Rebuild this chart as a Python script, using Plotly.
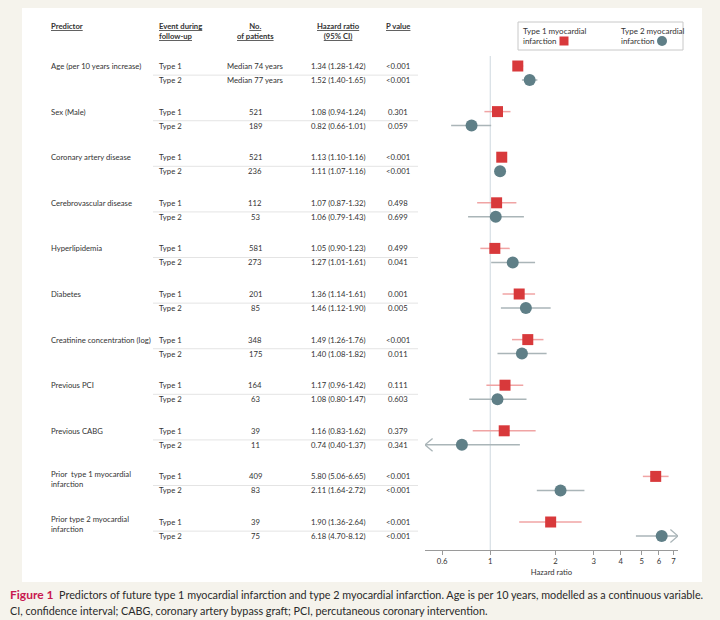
import math
import plotly.graph_objects as go

# ---------------- data ----------------
predictors = ["Age (per 10 years increase)", "Sex (Male)", "Coronary artery disease",
              "Cerebrovascular disease", "Hyperlipidemia", "Diabetes",
              "Creatinine concentration (log)", "Previous PCI", "Previous CABG",
              "Prior  type 1 myocardial<br>infarction", "Prior type 2 myocardial<br>infarction"]
event_types = ["Type 1", "Type 2"]
n_type1 = ["Median 74 years", "521", "521", "112", "581", "201", "348", "164", "39", "409", "39"]
n_type2 = ["Median 77 years", "189", "236", "53", "273", "85", "175", "63", "11", "83", "75"]
hr1 = [1.34, 1.08, 1.13, 1.07, 1.05, 1.36, 1.49, 1.17, 1.16, 5.80, 1.90]
lo1 = [1.28, 0.94, 1.10, 0.87, 0.90, 1.14, 1.26, 0.96, 0.83, 5.06, 1.36]
hi1 = [1.42, 1.24, 1.16, 1.32, 1.23, 1.61, 1.76, 1.42, 1.62, 6.65, 2.64]
p1 = ["<0.001", "0.301", "<0.001", "0.498", "0.499", "0.001", "<0.001", "0.111", "0.379", "<0.001", "<0.001"]
hr2 = [1.52, 0.82, 1.11, 1.06, 1.27, 1.46, 1.40, 1.08, 0.74, 2.11, 6.18]
lo2 = [1.40, 0.66, 1.07, 0.79, 1.01, 1.12, 1.08, 0.80, 0.40, 1.64, 4.70]
hi2 = [1.65, 1.01, 1.16, 1.43, 1.61, 1.90, 1.82, 1.47, 1.37, 2.72, 8.12]
p2 = ["<0.001", "0.059", "<0.001", "0.699", "0.041", "0.005", "0.011", "0.603", "0.341", "<0.001", "<0.001"]
tick_vals = [0.6, 1, 2, 3, 4, 5, 6, 7]

# ---------------- layout constants ----------------
W, H = 720, 620
XMIN, XMAX = 0.5, 7.35
RED, RED_LT = "#d8393b", "#f0a4a4"
TEAL, TEAL_LT = "#5f7f87", "#aab5b8"
TXT = "#333333"
FONT = "Lato"
FS = 7.7
OFF = 0.307          # offset of the Type 2 row within a group
Y_TOP, Y_BOT = -0.351, 10.614


def px(x):
    return x / W


def py(y):
    return 1 - y / H


def fmt_hr(h, l, u):
    return f"{h:.2f} ({l:.2f}-{u:.2f})"


groups = list(range(len(predictors)))
y1 = [g for g in groups]
y2 = [g + OFF for g in groups]

fig = go.Figure()


def add_series(hr, lo, hi, ys, color, lcolor, symbol, size, name):
    xs, yy = [], []
    arrows_x, arrows_y = [], []
    for h, l, u, y in zip(hr, lo, hi, ys):
        lc, uc = max(l, XMIN), min(u, XMAX)
        xs += [lc, uc, None]
        yy += [y, y, None]
        k = 10 ** 0.035
        if l < XMIN:
            arrows_x += [lc * k, lc, lc * k, None]
            arrows_y += [y - 0.14, y, y + 0.14, None]
        if u > XMAX:
            arrows_x += [uc / k, uc, uc / k, None]
            arrows_y += [y - 0.14, y, y + 0.14, None]
    fig.add_trace(go.Scatter(x=xs, y=yy, mode="lines", line=dict(color=lcolor, width=1.5),
                             hoverinfo="skip", showlegend=False))
    if arrows_x:
        fig.add_trace(go.Scatter(x=arrows_x, y=arrows_y, mode="lines",
                                 line=dict(color=lcolor, width=1.3),
                                 hoverinfo="skip", showlegend=False, cliponaxis=False))
    fig.add_trace(go.Scatter(x=hr, y=ys, mode="markers", name=name,
                             marker=dict(symbol=symbol, size=size, color=color,
                                         line=dict(width=0)),
                             showlegend=False, cliponaxis=False))


add_series(hr1, lo1, hi1, y1, RED, RED_LT, "square", 11, "Type 1 myocardial infarction")
add_series(hr2, lo2, hi2, y2, TEAL, TEAL_LT, "circle", 12, "Type 2 myocardial infarction")

shapes = []
annotations = []

# white panel
shapes.append(dict(type="rect", xref="paper", yref="paper", x0=px(22), x1=px(702),
                   y0=py(582), y1=py(8), fillcolor="white", line=dict(width=0), layer="below"))
# reference line at HR = 1
shapes.append(dict(type="line", xref="x", yref="paper", x0=1, x1=1, y0=py(550), y1=py(56),
                   line=dict(color="#cfd8df", width=1), layer="below"))

# table
def ann(text, x, y, xanchor="left", yref="y", size=FS, **kw):
    annotations.append(dict(text=text, x=x, y=y, xref="paper", yref=yref, xanchor=xanchor,
                            yanchor="middle", showarrow=False,
                            font=dict(family=FONT, size=size, color=TXT), **kw))

X_PRED, X_TYPE, X_N, X_HR, X_P = px(49), px(157), px(255), px(338), px(398)

# header
ann("<b><u>Predictor</u></b>", X_PRED, py(26), yref="paper")
ann("<b><u>Event during</u></b><br><b><u>follow-up</u></b>", X_TYPE, py(31), yref="paper", align="left")
ann("<b><u>No.</u></b><br><b><u>of patients</u></b>", X_N, py(31), xanchor="center", yref="paper")
ann("<b><u>Hazard ratio</u></b><br><b><u>(95% CI)</u></b>", X_HR, py(31), xanchor="center", yref="paper")
ann("<b><u>P value</u></b>", X_P, py(26), xanchor="center", yref="paper")

for g in groups:
    ya, yb = y1[g], y2[g]
    ann(predictors[g], X_PRED, ya + (0.05 if "<br>" in predictors[g] else 0), align="left")
    ann(event_types[0], X_TYPE, ya)
    ann(event_types[1], X_TYPE, yb)
    ann(n_type1[g], X_N, ya, xanchor="center")
    ann(n_type2[g], X_N, yb, xanchor="center")
    ann(fmt_hr(hr1[g], lo1[g], hi1[g]), X_HR, ya, xanchor="center")
    ann(fmt_hr(hr2[g], lo2[g], hi2[g]), X_HR, yb, xanchor="center")
    ann(p1[g], X_P, ya, xanchor="center")
    ann(p2[g], X_P, yb, xanchor="center")
    shapes.append(dict(type="line", xref="paper", yref="y", x0=px(153), x1=px(418),
                       y0=ya + 0.2, y1=ya + 0.2, line=dict(color="#e4e4e4", width=1)))

# custom legend
shapes.append(dict(type="rect", xref="paper", yref="paper", x0=px(518), x1=px(683),
                   y0=py(50), y1=py(22), line=dict(color="#c8c8c8", width=1), fillcolor="white"))
ann("Type 1 myocardial<br>infarction", px(521), py(36), yref="paper", align="left", size=8)
ann("Type 2 myocardial<br>infarction", px(619), py(36), yref="paper", align="left", size=8)
shapes.append(dict(type="rect", xref="paper", yref="paper", xsizemode="pixel", ysizemode="pixel",
                   xanchor=px(564), yanchor=py(41), x0=-4.5, x1=4.5, y0=-4.5, y1=4.5,
                   fillcolor=RED, line=dict(width=0)))
shapes.append(dict(type="circle", xref="paper", yref="paper", xsizemode="pixel", ysizemode="pixel",
                   xanchor=px(662), yanchor=py(41), x0=-5, x1=5, y0=-5, y1=5,
                   fillcolor=TEAL, line=dict(width=0)))

# caption
annotations.append(dict(
    text="<b><span style='color:#c8194f;font-size:12px'>Figure 1</span></b>  Predictors of future type 1 myocardial infarction and type 2 myocardial infarction. Age is per 10 years, modelled as a continuous variable.",
    x=px(8), y=py(594), xref="paper", yref="paper", xanchor="left", yanchor="middle",
    showarrow=False, font=dict(family=FONT, size=10.8, color="#2a2a2a")))
annotations.append(dict(
    text="CI, confidence interval; CABG, coronary artery bypass graft; PCI, percutaneous coronary intervention.",
    x=px(8), y=py(610), xref="paper", yref="paper", xanchor="left", yanchor="middle",
    showarrow=False, font=dict(family=FONT, size=10.8, color="#2a2a2a")))

fig.update_layout(
    width=W, height=H,
    margin=dict(l=0, r=0, t=0, b=0),
    paper_bgcolor="#f5f3ec",
    plot_bgcolor="rgba(0,0,0,0)",
    shapes=shapes,
    annotations=annotations,
    showlegend=False,
    xaxis=dict(type="log", range=[math.log10(XMIN), math.log10(XMAX)],
               domain=[px(425), px(678)],
               tickvals=tick_vals, ticktext=[str(v) for v in tick_vals],
               showgrid=False, zeroline=False, showline=True, linecolor="#9a9a9a", linewidth=1,
               ticks="outside", ticklen=4, tickcolor="#9a9a9a",
               tickfont=dict(family=FONT, size=FS, color=TXT),
               title=dict(text="Hazard ratio", font=dict(family=FONT, size=FS, color=TXT), standoff=4)),
    yaxis=dict(range=[Y_BOT, Y_TOP], domain=[py(550), py(50)], visible=False),
)

fig.write_html("out.html", config={"displayModeBar": False},
               post_script="document.body.style.margin='0px';document.body.style.overflow='hidden';")
